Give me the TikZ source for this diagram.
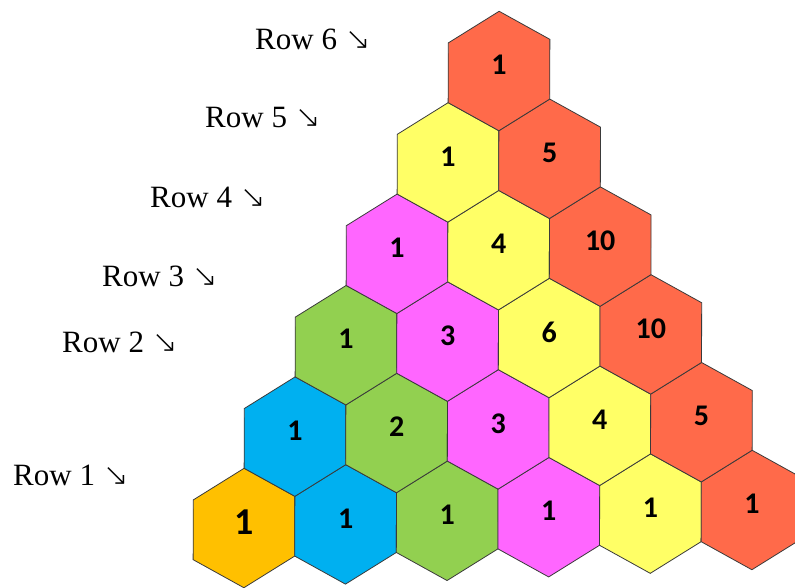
\documentclass[tikz,border=0pt]{standalone}
\usepackage{fontspec}
\setmainfont{Liberation Serif}
\newfontfamily\numfont{Carlito}
\newfontfamily\arrowfont{DejaVu Sans ExtraLight}
\definecolor{edge}{HTML}{3A3A3A}
\definecolor{cor}{HTML}{FFC000}
\definecolor{cbl}{HTML}{00B0F0}
\definecolor{cgr}{HTML}{92D050}
\definecolor{cmg}{HTML}{FF66FF}
\definecolor{cye}{HTML}{FFFF66}
\definecolor{crd}{HTML}{FF6A4A}
\newcommand{\hexpath}{++(1/3,1/3) -- ++(-2/3,1/3) -- ++(-1/3,-1/3) -- ++(1/3,-2/3) -- ++(2/3,-1/3) -- ++(1/3,1/3) -- cycle}
\tikzset{cell/.style={draw=edge,line width=0.8pt,fill=#1}, num/.style={font=\numfont\bfseries\fontsize{30}{30}\selectfont,inner sep=0pt,yshift=6pt}, rowlab/.style={anchor=base west,inner sep=0pt,font=\fontsize{31}{31}\selectfont}}

\begin{document}
\begin{tikzpicture}[x=1pt,y=1pt]
\useasboundingbox (0,0) rectangle (795,587);
\begin{scope}[shift={(244pt,59pt)},x={(101.6pt,3.6pt)},y={(51pt,91.4pt)}]
% bottom row
\draw[cell=cor] (0,0) \hexpath;
\draw[cell=cbl] (1,0) \hexpath;
\draw[cell=cgr] (2,0) \hexpath;
\draw[cell=cmg] (3,0) \hexpath;
\draw[cell=cye] (4,0) \hexpath;
\draw[cell=crd] (5,0) \hexpath;
% second row
\draw[cell=cbl] (0,1) \hexpath;
\draw[cell=cgr] (1,1) \hexpath;
\draw[cell=cmg] (2,1) \hexpath;
\draw[cell=cye] (3,1) \hexpath;
\draw[cell=crd] (4,1) \hexpath;
% third row
\draw[cell=cgr] (0,2) \hexpath;
\draw[cell=cmg] (1,2) \hexpath;
\draw[cell=cye] (2,2) \hexpath;
\draw[cell=crd] (3,2) \hexpath;
% fourth row
\draw[cell=cmg] (0,3) \hexpath;
\draw[cell=cye] (1,3) \hexpath;
\draw[cell=crd] (2,3) \hexpath;
% fifth and top row
\draw[cell=cye] (0,4) \hexpath;
\draw[cell=crd] (1,4) \hexpath;
\draw[cell=crd] (0,5) \hexpath;
% numbers
\node[num,font=\numfont\bfseries\fontsize{38}{38}\selectfont] (o1) at (0,0){1};
\node[num] (b1) at (1,0){1};
\node[num] (g1) at (2,0){1};
\node[num] (m1) at (3,0){1};
\node[num] (y1) at (4,0){1};
\node[num] (r1) at (5,0){1};
\node[num] (b2) at (0,1){1};
\node[num] (g2) at (1,1){2};
\node[num] (m2) at (2,1){3};
\node[num] (y2) at (3,1){4};
\node[num] (r2) at (4,1){5};
\node[num] (g3) at (0,2){1};
\node[num] (m3) at (1,2){3};
\node[num] (y3) at (2,2){6};
\node[num] (r3) at (3,2){10};
\node[num] (m4) at (0,3){1};
\node[num] (y4) at (1,3){4};
\node[num] (r4) at (2,3){10};
\node[num] (y5) at (0,4){1};
\node[num] (r5) at (1,4){5};
\node[num] (r6) at (0,5){1};
\end{scope}
\node[rowlab] (row6) at (255,537){Row 6 {\arrowfont ↘}};
\node[rowlab] (row5) at (205,459){Row 5 {\arrowfont ↘}};
\node[rowlab] (row4) at (150,379){Row 4 {\arrowfont ↘}};
\node[rowlab] (row3) at (102,300){Row 3 {\arrowfont ↘}};
\node[rowlab] (row2) at (62,234){Row 2 {\arrowfont ↘}};
\node[rowlab] (row1) at (13,102){Row 1 {\arrowfont ↘}};
\end{tikzpicture}
\end{document}
